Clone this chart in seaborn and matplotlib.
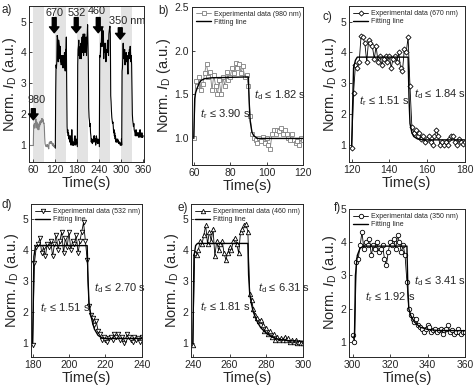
import numpy as np
import matplotlib
matplotlib.use('Agg')
import matplotlib.pyplot as plt
import seaborn as sns

# Sample grid: one reading per second for each 60 s window
t_b = np.arange(60, 121)
t_c = np.arange(120, 181)
t_d = np.arange(180, 241)
t_e = np.arange(240, 301)
t_f = np.arange(300, 361)

v_b = [1.00, 1.65, 1.60, 1.70, 1.55, 1.62, 1.75, 1.85, 1.70, 1.76, 1.55, 1.72, 1.60, 1.50, 1.66, 1.50,
       1.70, 1.60, 1.76, 1.66, 1.70, 1.80, 1.74, 1.86, 1.80, 1.85, 1.75, 1.82, 1.70, 1.72, 1.60, 1.25,
       1.05, 1.00, 0.98, 0.95, 1.00, 0.97, 1.02, 0.95, 1.00, 0.92, 0.88, 1.05, 1.10, 1.05, 1.10, 1.08,
       1.12, 1.05, 1.10, 1.05, 1.00, 0.98, 1.05, 0.98, 0.95, 0.97, 0.93, 1.00, 0.98]
v_c = [0.90, 2.70, 3.60, 3.50, 3.70, 4.55, 4.50, 4.30, 3.70, 4.40, 4.30, 4.20, 3.80, 4.20, 3.70, 3.90,
       3.60, 3.80, 3.90, 3.70, 3.90, 3.50, 3.80, 3.90, 3.70, 4.00, 3.50, 3.40, 4.10, 4.00, 4.50, 2.90,
       1.60, 1.40, 1.50, 1.30, 1.40, 1.20, 1.30, 1.10, 1.20, 1.30, 1.10, 1.00, 1.30, 1.50, 1.30, 1.00,
       1.10, 1.00, 1.10, 1.00, 1.20, 1.30, 1.30, 1.10, 1.00, 1.20, 1.10, 1.05, 1.10]
v_d = [0.95, 3.60, 4.10, 4.20, 4.40, 3.90, 4.10, 3.80, 4.20, 4.10, 4.30, 3.80, 4.20, 4.50, 4.00, 4.30,
       4.60, 3.90, 4.40, 4.10, 4.60, 4.00, 4.30, 4.20, 4.50, 3.90, 4.30, 4.60, 4.90, 4.30, 3.70, 2.20,
       1.90, 1.80, 1.60, 1.70, 1.40, 1.30, 1.10, 1.20, 1.10, 1.05, 1.15, 1.20, 1.10, 1.30, 1.20, 1.30,
       1.10, 1.20, 1.00, 1.10, 1.30, 1.20, 1.10, 1.05, 1.20, 1.10, 1.15, 1.05, 1.20]
v_e = [0.95, 3.90, 3.85, 4.00, 4.30, 4.20, 4.50, 4.80, 4.20, 4.60, 4.30, 4.70, 3.80, 4.30, 4.00, 4.20,
       4.30, 3.90, 3.70, 3.90, 4.10, 4.00, 4.30, 4.40, 4.20, 3.90, 4.60, 4.70, 4.80, 4.85, 4.60, 2.60,
       2.40, 2.10, 1.90, 1.80, 1.70, 1.75, 1.60, 1.40, 1.50, 1.30, 1.40, 1.20, 1.30, 1.10, 1.20, 1.10,
       1.15, 1.10, 1.20, 1.10, 1.15, 1.05, 1.10, 1.05, 1.10, 1.00, 1.05, 1.00, 1.00]
v_f = [1.20, 1.00, 3.40, 3.50, 3.90, 4.30, 3.80, 4.00, 3.90, 4.10, 3.60, 3.90, 3.80, 4.00, 3.70, 3.80,
       3.90, 3.50, 3.30, 3.70, 4.00, 3.90, 4.10, 3.80, 4.20, 4.00, 3.70, 3.90, 3.60, 2.80, 2.00, 1.80,
       1.70, 1.60, 1.70, 1.50, 1.45, 1.40, 1.30, 1.40, 1.50, 1.45, 1.30, 1.35, 1.40, 1.30, 1.35, 1.40,
       1.25, 1.35, 1.40, 1.50, 1.30, 1.35, 1.25, 1.30, 1.40, 1.30, 1.25, 1.30, 1.30]

# Fitting lines (key points)
fit_b_t = [60, 60.5, 61, 62, 63, 64, 66, 70, 90, 90.5, 91, 92, 93, 95, 120]
fit_b_v = [1.0, 1.45, 1.52, 1.58, 1.63, 1.66, 1.68, 1.69, 1.70, 1.40, 1.20, 1.07, 1.03, 1.00, 1.00]
fit_c_t = [120, 121, 122, 123, 150, 150.5, 151, 152, 153, 155, 158, 180]
fit_c_v = [1.0, 3.5, 3.75, 3.85, 3.85, 2.5, 1.7, 1.4, 1.28, 1.2, 1.17, 1.17]
fit_d_t = [180, 180.7, 181.5, 182.5, 210, 210.5, 211, 212, 213, 214, 215, 216, 218, 220, 240]
fit_d_v = [1.0, 3.8, 4.1, 4.15, 4.15, 3.0, 2.3, 1.9, 1.65, 1.45, 1.35, 1.25, 1.17, 1.15, 1.15]
fit_e_t = [240, 240.6, 241.5, 242.5, 270, 270.4, 271, 272, 273, 275, 277, 280, 283, 287, 292, 300]
fit_e_v = [1.0, 3.8, 4.15, 4.22, 4.22, 3.2, 2.6, 2.25, 2.0, 1.7, 1.5, 1.32, 1.2, 1.12, 1.08, 1.06]
fit_f_t = [300, 301, 301.5, 302.5, 304, 306, 329, 329.5, 330, 331, 333, 336, 340, 345, 360]
fit_f_v = [1.15, 1.15, 3.0, 3.6, 3.82, 3.88, 3.88, 2.6, 2.0, 1.8, 1.6, 1.45, 1.38, 1.35, 1.34]

# panel a extras
pre_t = [48, 60]
pre_v = [1.0, 1.0]
light_on = [(60, 90), (120, 150), (180, 210), (240, 270), (300, 330)]
arrow_labels = ['980', '670', '532', '460', '350 nm']
arrow_x = [60, 117, 177, 237, 297]
arrow_top = [2.18, 5.13, 5.13, 5.13, 4.80]
arrow_tip = [1.82, 4.64, 4.64, 4.64, 4.43]
label_x = [70, 117, 177, 234, 316]
label_y = [2.45, 5.29, 5.29, 5.33, 5.03]

sns.set_style('ticks')
plt.rcParams['font.family'] = ['Liberation Sans', 'DejaVu Sans']
plt.rcParams['mathtext.fontset'] = 'custom'
plt.rcParams['mathtext.it'] = 'Liberation Sans:italic'
plt.rcParams['mathtext.rm'] = 'Liberation Sans'

ylab = r'Norm. $I_\mathrm{D}$ (a.u.)'

fig = plt.figure(figsize=(4.74, 3.86), dpi=100)


def style_axes(ax):
    ax.tick_params(direction='in', length=2.5, width=0.6, labelsize=7.5, pad=2)
    for s in ax.spines.values():
        s.set_linewidth(0.7)
    ax.set_xlabel('Time(s)', fontsize=10.5, labelpad=1)
    ax.set_ylabel(ylab, fontsize=10.5, labelpad=1)


# ---- panel a: whole trace
ax = fig.add_axes([0.061, 0.580, 0.243, 0.404])
for lo, hi in light_on:
    ax.axvspan(lo, hi, color='#e3e3e3', lw=0, zorder=0)
sns.lineplot(x=pre_t, y=pre_v, ax=ax, color='#808080', lw=0.8, sort=False)
sns.lineplot(x=t_b, y=v_b, ax=ax, color='#808080', lw=0.8)
for tt, vv in [(t_c, v_c), (t_d, v_d), (t_e, v_e), (t_f, v_f)]:
    sns.lineplot(x=tt, y=vv, ax=ax, color='black', lw=0.8)
for lab, x, y0, y1, lx, ly in zip(arrow_labels, arrow_x, arrow_top, arrow_tip, label_x, label_y):
    ax.annotate('', xy=(x, y1), xytext=(x, y0),
                arrowprops=dict(width=2.8, headwidth=6.8, headlength=4.2, color='black', shrink=0))
    ax.text(lx, ly, lab, ha='center', va='center', fontsize=7.8)
ax.set_xlim(48, 362)
ax.set_ylim(0.45, 5.5)
ax.set_xticks([60, 120, 180, 240, 300, 360])
ax.set_yticks([1, 2, 3, 4, 5])
style_axes(ax)

# ---- panels b-f: single pulses
panels = [
    ('b', [0.405, 0.573, 0.234, 0.410], t_b, v_b, fit_b_t, fit_b_v, 's', '#808080', '980',
     (59, 120), (0.7, 2.5), [60, 80, 100, 120], [1.0, 1.5, 2.0, 2.5], '3.90', '1.82', (63.3, 1.28), (93, 1.49)),
    ('c', [0.736, 0.580, 0.244, 0.404], t_c, v_c, fit_c_t, fit_c_v, 'D', 'black', '670',
     (118.5, 180), (0.45, 5.5), [120, 140, 160, 180], [1, 2, 3, 4, 5], '1.51', '1.84', (124, 2.43), (153.4, 2.66)),
    ('d', [0.065, 0.075, 0.234, 0.397], t_d, v_d, fit_d_t, fit_d_v, 'v', 'black', '532',
     (179, 240), (0.55, 5.5), [180, 200, 220, 240], [1, 2, 3, 4, 5], '1.51', '2.70', (184, 2.13), (214, 2.77)),
    ('e', [0.403, 0.075, 0.236, 0.397], t_e, v_e, fit_e_t, fit_e_v, '^', 'black', '460',
     (239, 300), (0.55, 5.5), [240, 260, 280, 300], [1, 2, 3, 4, 5], '1.81', '6.31', (244, 2.17), (275.4, 2.79)),
    ('f', [0.736, 0.075, 0.245, 0.384], t_f, v_f, fit_f_t, fit_f_v, 'o', 'black', '350',
     (298, 360), (0.55, 5.0), [300, 320, 340, 360], [1, 2, 3, 4, 5], '1.92', '3.41', (306.5, 2.34), (333, 2.84)),
]

for (letter, rect, tt, vv, ft, fv, mk, col, nm, xl, yl, xt, yt, tr, td, trpos, tdpos) in panels:
    ax = fig.add_axes(rect)
    sns.lineplot(x=tt, y=vv, ax=ax, color=col, lw=0.6, marker=mk, markersize=3.2 if mk != 'D' else 2.6,
                 markerfacecolor='white', markeredgecolor=col, markeredgewidth=0.6,
                 label=f'Experimental data ({nm} nm)')
    sns.lineplot(x=ft, y=fv, ax=ax, color='black', lw=1.0, label='Fitting line')
    ax.text(trpos[0], trpos[1], r'$t_\mathrm{r}$ ≤ ' + tr + ' s', fontsize=8, va='center')
    ax.text(tdpos[0], tdpos[1], r'$t_\mathrm{d}$ ≤ ' + td + ' s', fontsize=8, va='center')
    ax.set_xlim(*xl)
    ax.set_ylim(*yl)
    ax.set_xticks(xt)
    ax.set_yticks(yt)
    if letter == 'b':
        ax.set_yticklabels(['1.0', '1.5', '2.0', '2.5'])
    ax.legend(loc='upper left', frameon=False, fontsize=5, handlelength=2.2,
              borderaxespad=0.2, labelspacing=0.15, handletextpad=0.4)
    style_axes(ax)

# panel letters
for lab, x, y in [('a)', 0.004, 0.975), ('b)', 0.333, 0.972), ('c)', 0.68, 0.955),
                  ('d)', 0.004, 0.47), ('e)', 0.375, 0.462), ('f)', 0.705, 0.462)]:
    fig.text(x, y, lab, fontsize=8.5, va='center')

fig.savefig('out.png', dpi=100)
